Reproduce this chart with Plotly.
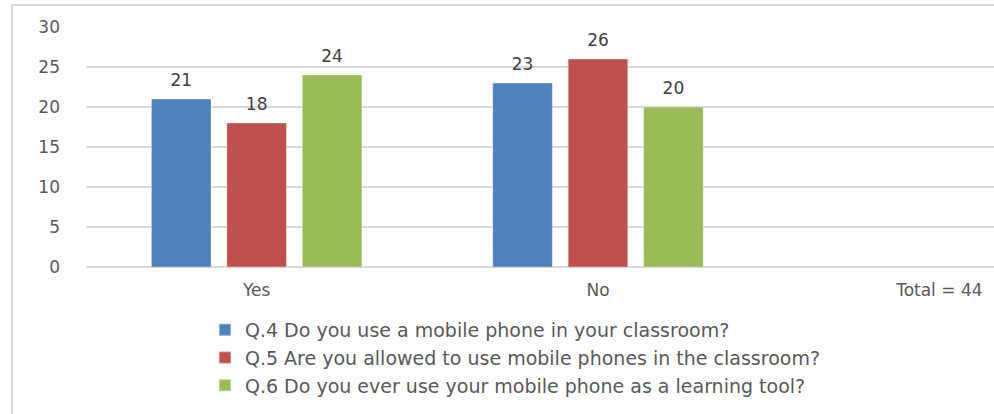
import plotly.graph_objects as go

categories = ["Yes", "No", "Total = 44"]
series_names = [
    "Q.4 Do you use a mobile phone in your classroom?",
    "Q.5 Are you allowed to use mobile phones in the classroom?",
    "Q.6 Do you ever use your mobile phone as a learning tool?",
]
q4 = [21, 23, None]
q5 = [18, 26, None]
q6 = [24, 20, None]
colors = ["#4f81bd", "#c0504d", "#9bbb59"]
y_ticks = [0, 5, 10, 15, 20, 25, 30]

W, H = 1130, 414
L, R, T, B = 86, 20, 27, 147
PW, PH = W - L - R, H - T - B

fig = go.Figure()
for i, (name, vals) in enumerate(zip(series_names, [q4, q5, q6])):
    fig.add_trace(go.Bar(
        x=categories, y=vals, name=name,
        marker=dict(color=colors[i], line=dict(color="rgba(255,255,255,0.35)", width=1)),
        offsetgroup=f"s{i}",
        legendgroup=f"g{i}",
    ))
for i, vals in enumerate([q4, q5, q6]):
    fig.add_trace(go.Scatter(
        x=categories, y=vals, mode="markers+text",
        marker=dict(size=13, opacity=0),
        text=[str(v) if v is not None else "" for v in vals],
        textposition="top center",
        textfont=dict(family="DejaVu Sans", size=17, color="#404040"),
        offsetgroup=f"s{i}", showlegend=False, hoverinfo="skip",
        cliponaxis=False,
    ))

def px_x(p):
    return (p - L) / PW

def px_y(p):
    return (H - B - p) / PH

fig.update_layout(
    width=W, height=H,
    margin=dict(l=L, r=R, t=T, b=B, pad=0, autoexpand=False),
    paper_bgcolor="white", plot_bgcolor="white",
    barmode="group", bargap=0.337, bargroupgap=0.21,
    scattermode="group", scattergap=0.337,
    font=dict(family="DejaVu Sans", color="#595959"),
    showlegend=True,
    legend=dict(
        x=px_x(205), y=px_y(311), xanchor="left", yanchor="top",
        orientation="v", traceorder="normal",
        font=dict(family="DejaVu Sans", size=19, color="#595959"),
        tracegroupgap=13, itemsizing="constant",
        bgcolor="rgba(0,0,0,0)",
    ),
    xaxis=dict(
        showgrid=False, showline=False, zeroline=False, automargin=False,
        tickfont=dict(family="DejaVu Sans", size=17, color="#595959"),
        ticks="", ticklabelstandoff=11,
    ),
    yaxis=dict(
        range=[0, 30], tickvals=y_ticks, automargin=False,
        showgrid=True, gridcolor="#d9d9d9", gridwidth=1.5,
        zeroline=True, zerolinecolor="#d9d9d9", zerolinewidth=1.5,
        showline=False, ticks="",
        tickfont=dict(family="DejaVu Sans", size=17, color="#595959"),
        ticklabelstandoff=25,
    ),
    shapes=[dict(
        type="rect", xref="paper", yref="paper",
        x0=px_x(12), x1=px_x(W + 20), y0=px_y(5), y1=px_y(H + 20),
        line=dict(color="#d9d9d9", width=2), fillcolor="rgba(0,0,0,0)", layer="below",
    )],
)

fig.write_html("out.html")
